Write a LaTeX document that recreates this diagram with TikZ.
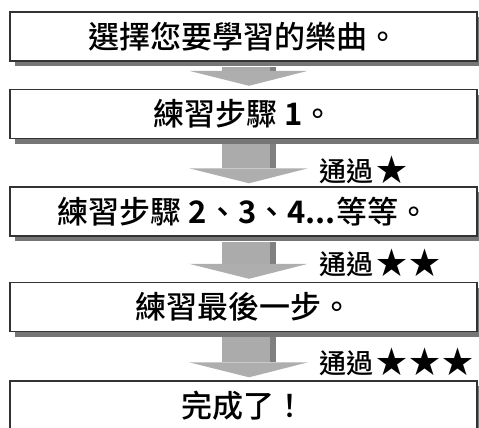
\documentclass[tikz,border=0pt]{standalone}
\usepackage{fontspec}
\setmainfont{Noto Sans CJK TC}[UprightFont=* Medium, BoldFont=* Bold]
\usetikzlibrary{calc,shadows}
\definecolor{boxline}{HTML}{333333}
\definecolor{shadowgray}{HTML}{767676}
\definecolor{shaftgray}{HTML}{ABABAB}
\definecolor{stripgray}{HTML}{808080}
\definecolor{headgray}{HTML}{AEAEAE}
\newcommand\onestar{{\fontsize{31pt}{31pt}\selectfont ★}}
\newcommand\passarrow[2]{%
  \fill[shaftgray] ($(#1.south)+(-21.5,5)$) rectangle ($(#2.north)+(32.5,-18)$);
  \fill[stripgray] ($(#1.south)+(26.5,5)$) rectangle ($(#2.north)+(32.5,-18)$);
  \fill[headgray] ($(#2.north)+(-54.5,-18)$) -- ($(#2.north)+(64.5,-18)$) -- ($(#2.north)+(5.5,-3)$) -- cycle;
}
\begin{document}
\begin{tikzpicture}[x=1pt,y=-1pt,
  stepbox/.style={draw=boxline, line width=1.4pt, fill=white,
    minimum width=467pt, minimum height=49pt, inner sep=0pt,
    font=\fontsize{31pt}{31pt}\selectfont,
    general shadow={fill=shadowgray, shadow xshift=5pt, shadow yshift=-5pt}},
  passlabel/.style={anchor=west, inner sep=0pt,
    font=\fontsize{27pt}{27pt}\selectfont}]
\path[use as bounding box, clip] (0,0) rectangle (479,428);
\node[stepbox] (b1) at (243.5,36.5) {選擇您要學習的樂曲。};
\node[stepbox] (b2) at (243.5,114) {練習步驟 {\bfseries 1}。};
\node[stepbox] (b3) at (243.5,211.5) {練習步驟 {\bfseries 2}、{\bfseries 3}、{\bfseries 4...}等等。};
\node[stepbox] (b4) at (243.5,307) {練習最後一步。};
\node[stepbox] (b5) at (243.5,405.5) {完成了！};
\passarrow{b1}{b2}
\passarrow{b2}{b3}
\passarrow{b3}{b4}
\passarrow{b4}{b5}
\node[passlabel] (p1) at (319,170) {通過\hspace{3pt}\onestar};
\node[passlabel] (p2) at (319,263) {通過\hspace{3pt}\onestar\hspace{2pt}\onestar};
\node[passlabel] (p3) at (319,362) {通過\hspace{3pt}\onestar\hspace{2pt}\onestar\hspace{2pt}\onestar};
\end{tikzpicture}
\end{document}
